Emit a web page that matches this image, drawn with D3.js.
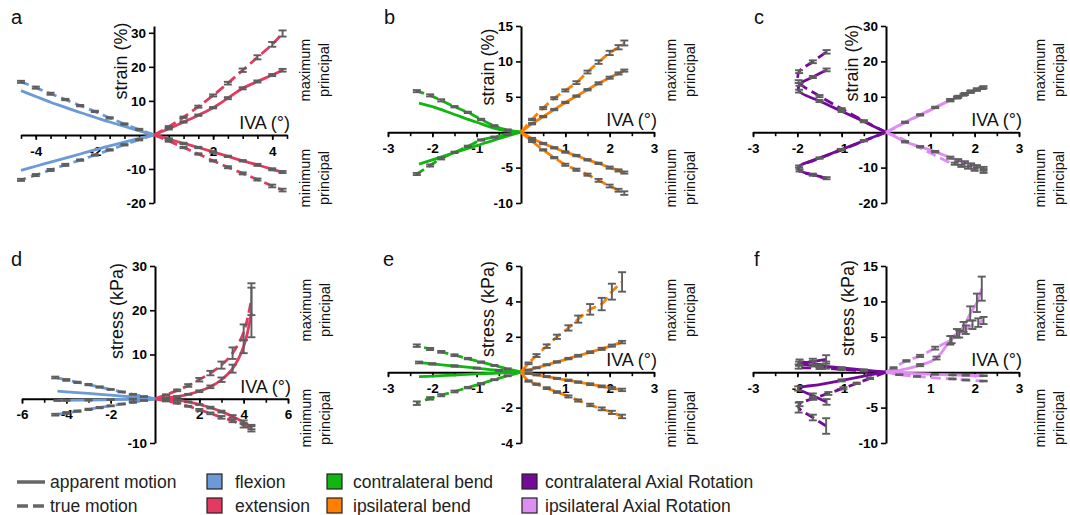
<!DOCTYPE html>
<html>
<head>
<meta charset="utf-8">
<script src="https://cdn.jsdelivr.net/npm/d3@7"></script>
<style>
  body { margin: 0; background: #fff; }
  svg { display: block; font-family: Arial, "Liberation Sans", Helvetica, sans-serif; }
</style>
</head>
<body>
<svg id="chart" width="1070" height="515"></svg>
<script>
// ---------- data: [IVA (deg), value, SEM] ; points without SEM carry no error bar ----------

// a: strain, flexion (negative IVA) / extension (positive IVA)
const aFlexMaxApp  = [[0,0],[-0.5,1.2],[-1,2.5],[-1.5,3.8],[-2,5.2],[-2.5,6.6],[-3,8.1],[-3.5,9.6],[-4,11.3],[-4.5,13.0]];
const aFlexMaxTrue = [[0,0],[-0.5,1.6,0.2],[-1,3.2,0.2],[-1.5,5.0,0.2],[-2,6.9,0.2],[-2.5,8.6,0.2],[-3,10.4,0.2],[-3.5,12.1,0.3],[-4,13.9,0.3],[-4.5,15.6,0.3]];
const aFlexMinApp  = [[0,0],[-0.5,-1.0],[-1,-2.1],[-1.5,-3.2],[-2,-4.4],[-2.5,-5.6],[-3,-6.8],[-3.5,-8.0],[-4,-9.2],[-4.5,-10.4]];
const aFlexMinTrue = [[0,0],[-0.5,-1.4,0.2],[-1,-2.9,0.2],[-1.5,-4.4,0.2],[-2,-5.9,0.2],[-2.5,-7.4,0.2],[-3,-8.8,0.3],[-3.5,-10.3,0.3],[-4,-11.8,0.3],[-4.5,-13.2,0.3]];
const aExtMaxApp   = [[0,0],[0.5,1.8,0.2],[1,3.8,0.2],[1.5,5.8,0.2],[2,8.0,0.2],[2.5,10.8,0.3],[3,13.7,0.3],[3.5,15.7,0.3],[4,17.6,0.3],[4.35,19.0,0.4]];
const aExtMaxTrue  = [[0,0],[0.5,2.4,0.2],[1,5.2,0.2],[1.5,8.3,0.3],[2,11.6,0.3],[2.5,15.2,0.4],[3,19.0,0.5],[3.5,22.8,0.6],[4,26.6,0.7],[4.35,29.8,0.9]];
const aExtMinApp   = [[0,0],[0.5,-1.2,0.2],[1,-2.5,0.2],[1.5,-3.7,0.2],[2,-5.0,0.2],[2.5,-6.3,0.2],[3,-7.6,0.2],[3.5,-8.8,0.3],[4,-10.1,0.3],[4.35,-10.9,0.3]];
const aExtMinTrue  = [[0,0],[0.5,-1.8,0.2],[1,-3.7,0.2],[1.5,-5.6,0.2],[2,-7.6,0.2],[2.5,-9.5,0.3],[3,-11.3,0.3],[3.5,-13.1,0.3],[4,-15.0,0.4],[4.35,-16.2,0.4]];

// b: strain, contralateral bend (negative) / ipsilateral bend (positive)
const bContraMaxApp  = [[0,0],[-0.5,0.4],[-1,1.4],[-1.5,2.5],[-2,3.6],[-2.3,4.1]];
const bContraMaxTrue = [[0,0],[-0.3,0.3,0.1],[-0.6,0.9,0.1],[-0.9,1.8,0.1],[-1.2,2.8,0.1],[-1.5,3.6,0.1],[-1.8,4.5,0.15],[-2.05,5.2,0.15],[-2.35,5.8,0.15]];
const bContraMinApp  = [[0,0],[-0.5,-0.9],[-1,-1.9],[-1.5,-2.9],[-2,-3.9],[-2.3,-4.5]];
const bContraMinTrue = [[0,0],[-0.3,-0.3,0.1],[-0.6,-0.7,0.1],[-0.9,-1.1,0.1],[-1.2,-2.0,0.1],[-1.5,-2.85,0.1],[-1.8,-3.7,0.15],[-2.05,-4.7,0.15],[-2.35,-5.9,0.15]];
const bIpsiMaxApp    = [[0,0],[0.25,1.2,0.1],[0.5,2.2,0.1],[0.75,3.2,0.1],[1,4.2,0.1],[1.25,5.1,0.1],[1.5,6.0,0.1],[1.75,6.9,0.15],[2,7.7,0.15],[2.2,8.3,0.15],[2.33,8.7,0.15]];
const bIpsiMaxTrue   = [[0,0],[0.25,1.8,0.1],[0.5,3.4,0.15],[0.75,4.8,0.15],[1,5.9,0.15],[1.25,7.0,0.2],[1.5,8.5,0.2],[1.75,9.9,0.25],[2,11.2,0.3],[2.2,12.0,0.3],[2.33,12.6,0.35]];
const bIpsiMinApp    = [[0,0],[0.25,-0.9,0.1],[0.5,-1.6,0.1],[0.75,-2.2,0.1],[1,-2.8,0.1],[1.25,-3.3,0.1],[1.5,-3.9,0.1],[1.75,-4.4,0.1],[2,-5.0,0.15],[2.2,-5.4,0.15],[2.33,-5.7,0.15]];
const bIpsiMinTrue   = [[0,0],[0.25,-1.3,0.1],[0.5,-2.5,0.1],[0.75,-3.6,0.1],[1,-4.6,0.15],[1.25,-5.3,0.15],[1.5,-6.0,0.15],[1.75,-6.8,0.2],[2,-7.6,0.2],[2.2,-8.2,0.2],[2.33,-8.6,0.25]];

// c: strain, contralateral axial rotation (negative) / ipsilateral axial rotation (positive)
const cContraMaxApp  = [[0,0],[-0.5,3.0,0.2],[-1,5.9,0.2],[-1.5,8.8,0.3],[-1.96,11.6,0.4],[-1.95,13.5,0.4],[-1.65,15.6,0.3],[-1.34,17.6,0.4]];
const cContraMaxTrue = [[0,0],[-0.5,3.2,0.2],[-1,6.6,0.2],[-1.5,10.2,0.3],[-1.97,14.3,0.4],[-1.96,17.1,0.4],[-1.65,19.9,0.4],[-1.34,22.7,0.5]];
const cContraMinApp  = [[0,0],[-0.5,-2.4,0.2],[-1,-4.9,0.2],[-1.5,-7.3,0.2],[-1.96,-9.7,0.3],[-1.95,-10.8,0.3],[-1.65,-12.0,0.3],[-1.34,-13.0,0.3]];
const cContraMinTrue = [[0,0],[-0.5,-2.5],[-1,-5.0],[-1.5,-7.4],[-1.97,-9.9],[-1.96,-10.9],[-1.65,-12.1],[-1.34,-13.1]];
const cIpsiMaxApp    = [[0,0],[0.2,1.3],[0.43,2.8,0.2],[0.77,4.9,0.2],[1.11,7.0,0.2],[1.45,9.1,0.3],[1.63,10.0,0.3],[1.78,10.8,0.3],[1.92,11.5,0.3],[2.05,12.1,0.3],[2.2,12.7,0.3]];
const cIpsiMaxTrue   = [[0,0],[0.2,1.2],[0.43,2.7],[0.77,4.8],[1.11,6.9],[1.45,9.0,0.3],[1.6,9.8,0.3],[1.75,10.6,0.3],[1.9,11.4,0.3],[2.05,12.0,0.3],[2.18,12.5,0.3]];
const cIpsiMinApp    = [[0,0],[0.2,-1.2],[0.43,-2.7,0.2],[0.77,-4.1,0.2],[1.11,-5.5,0.2],[1.45,-7.2,0.3],[1.63,-7.9,0.3],[1.78,-8.5,0.3],[1.92,-9.1,0.3],[2.05,-9.6,0.3],[2.2,-10.1,0.3]];
const cIpsiMinTrue   = [[0,0],[0.26,-1.3],[0.6,-3.4],[1.0,-5.9],[1.39,-8.3],[1.55,-8.9,0.3],[1.7,-9.5,0.3],[1.85,-10.0,0.3],[2.0,-10.6,0.3],[2.2,-11.2,0.3]];

// d: stress, flexion / extension
const dFlexMaxApp  = [[0,0],[-1,0.4],[-2,0.8],[-3,1.2],[-4,1.55],[-4.4,1.7]];
const dFlexMaxTrue = [[0,0],[-0.5,0.5,0.1],[-1,1.0,0.1],[-1.5,1.55,0.1],[-2,2.1,0.1],[-2.5,2.65,0.15],[-3,3.2,0.15],[-3.5,3.7,0.15],[-4,4.25,0.2],[-4.5,4.8,0.2]];
const dFlexMinApp  = [[0,0],[-1,-0.1,0.1],[-2,-0.2,0.1],[-3,-0.3,0.1],[-4,-0.35,0.1],[-4.4,-0.4,0.1]];
const dFlexMinTrue = [[0,0],[-0.5,-0.4,0.1],[-1,-0.8,0.1],[-1.5,-1.2,0.1],[-2,-1.6,0.1],[-2.5,-2.0,0.15],[-3,-2.4,0.15],[-3.5,-2.8,0.15],[-4,-3.2,0.2],[-4.5,-3.6,0.2]];
const dExtMaxApp   = [[0,0],[0.5,0.2,0.1],[1,0.5,0.1],[1.5,1.0,0.1],[2,1.7,0.2],[2.5,2.7,0.3],[3,4.3,0.5],[3.5,6.8,0.9],[4,11.8,1.5],[4.35,19.5,5.6]];
const dExtMaxTrue  = [[0,0],[0.5,0.9,0.1],[1,1.9,0.2],[1.5,3.0,0.3],[2,4.3,0.4],[2.5,5.8,0.5],[3,7.6,0.8],[3.5,10.3,1.3],[4,15.0,1.8],[4.35,22.5,3.6]];
const dExtMinApp   = [[0,0],[0.5,-0.1,0.1],[1,-0.3,0.1],[1.5,-0.7,0.1],[2,-1.3,0.1],[2.5,-2.0,0.2],[3,-2.9,0.2],[3.5,-4.0,0.3],[4,-5.3,0.4],[4.35,-6.4,0.5]];
const dExtMinTrue  = [[0,0],[0.5,-0.5,0.1],[1,-1.0,0.1],[1.5,-1.7,0.1],[2,-2.5,0.2],[2.5,-3.3,0.2],[3,-4.2,0.3],[3.5,-5.0,0.3],[4,-6.0,0.5],[4.35,-6.8,0.6]];

// e: stress, contralateral / ipsilateral bend
const eContraMaxApp  = [[0,0],[-0.5,0.1,0.03],[-1,0.23,0.03],[-1.5,0.35,0.04],[-2,0.47,0.04],[-2.3,0.55,0.05]];
const eContraMaxTrue = [[0,0],[-0.3,0.19,0.03],[-0.6,0.38,0.03],[-0.9,0.57,0.04],[-1.2,0.77,0.04],[-1.5,0.96,0.05],[-1.8,1.15,0.05],[-2.05,1.31,0.06],[-2.35,1.5,0.07]];
const eContraMinApp  = [[0,0],[-0.5,-0.05],[-1,-0.1],[-1.5,-0.16],[-2,-0.22],[-2.3,-0.25]];
const eContraMinTrue = [[0,0],[-0.3,-0.2,0.03],[-0.6,-0.42,0.03],[-0.9,-0.65,0.04],[-1.2,-0.87,0.04],[-1.5,-1.09,0.05],[-1.8,-1.3,0.06],[-2.05,-1.48,0.07],[-2.35,-1.75,0.1]];
const eIpsiMaxApp    = [[0,0],[0.17,0.12,0.03],[0.35,0.25,0.03],[0.58,0.42,0.03],[0.81,0.58,0.04],[1.07,0.77,0.04],[1.29,0.93,0.05],[1.56,1.13,0.05],[1.82,1.32,0.06],[2.05,1.5,0.06],[2.28,1.7,0.07]];
const eIpsiMaxTrue   = [[0,0],[0.17,0.5,0.05],[0.35,0.94,0.08],[0.58,1.47,0.1],[0.81,2.0,0.12],[1.07,2.5,0.15],[1.29,3.0,0.2],[1.56,3.55,0.3],[1.82,3.85,0.35],[2.05,4.55,0.45],[2.28,5.1,0.55]];
const eIpsiMinApp    = [[0,0],[0.17,-0.07,0.03],[0.35,-0.15,0.03],[0.58,-0.25,0.03],[0.81,-0.35,0.03],[1.07,-0.46,0.04],[1.29,-0.56,0.04],[1.56,-0.68,0.05],[1.82,-0.8,0.05],[2.05,-0.9,0.06],[2.28,-1.0,0.07]];
const eIpsiMinTrue   = [[0,0],[0.17,-0.5,0.04],[0.35,-0.68,0.04],[0.58,-0.9,0.05],[0.81,-1.12,0.05],[1.07,-1.37,0.06],[1.29,-1.6,0.06],[1.56,-1.85,0.07],[1.82,-2.07,0.08],[2.05,-2.27,0.09],[2.28,-2.5,0.1]];

// f: stress, contralateral / ipsilateral axial rotation
const fContraMaxApp  = [[0,0],[-0.5,0.3,0.1],[-1,0.6,0.1],[-1.5,0.9,0.15],[-1.96,1.2,0.3],[-1.65,1.5,0.4],[-1.35,1.8,0.6]];
const fContraMaxTrue = [[0,0],[-0.5,0.2,0.1],[-1,0.4,0.1],[-1.5,0.6,0.15],[-1.97,0.8,0.3],[-1.95,1.4,0.4],[-1.65,1.2,0.4],[-1.35,1.0,0.5]];
const fContraMinApp  = [[0,0],[-0.5,-0.55],[-1,-1.15,0.15],[-1.5,-1.75],[-1.98,-2.3,0.3],[-1.65,-3.3,0.3],[-1.34,-4.2,0.4]];
const fContraMinTrue = [[0,0],[-0.36,-0.87,0.1],[-0.66,-1.57,0.1],[-0.96,-2.27,0.15],[-1.3,-3.0,0.2],[-1.64,-3.7,0.2],[-1.95,-4.5,0.3],[-1.97,-5.0,0.7],[-1.65,-6.4,0.4],[-1.35,-7.6,1.1]];
const fIpsiMaxApp    = [[0,0],[0.32,0.3],[0.77,1.0,0.15],[1.14,2.0,0.2],[1.45,4.5,0.6],[1.6,5.5,0.6],[1.75,6.4,0.7],[1.9,8.3,1.0],[2.05,9.8,1.3],[2.16,11.8,1.7]];
const fIpsiMaxTrue   = [[0,0],[0.17,0.6,0.1],[0.46,1.6,0.1],[0.77,2.3,0.15],[1.11,3.4,0.2],[1.48,4.6,0.5],[1.65,5.4,0.5],[1.8,6.0,0.6],[1.95,6.7,0.6],[2.08,7.0,0.6],[2.2,7.3,0.5]];
const fIpsiMinApp    = [[0,0],[0.3,-0.1],[0.7,-0.2],[1.1,-0.3,0.05],[1.5,-0.38,0.05],[1.8,-0.44,0.05],[2.2,-0.5,0.05]];
const fIpsiMinTrue   = [[0,0],[0.3,-0.35,0.05],[0.7,-0.6,0.05],[1.1,-0.8],[1.5,-0.95,0.05],[1.8,-1.1,0.05],[2.2,-1.25,0.05]];

// ---------- axis ticks ----------
const xTicksA = [-4, -2, 2, 4];
const xTicksD = [-6, -4, -2, 2, 4, 6];
const xTicks3 = [-3, -2, -1, 1, 2, 3];
const yTicksA = [-20, -10, 10, 20, 30];
const yTicksB = [-10, -5, 5, 10, 15];
const yTicksC = [-20, -10, 10, 20, 30];
const yTicksD = [-10, 10, 20, 30];
const yTicksE = [-4, -2, 2, 4, 6];
const yTicksF = [-10, -5, 5, 10, 15];

// ---------- legend text ----------
const motionLabels = ["apparent motion", "true motion"];
const directionLabels = [
  ["flexion", "extension"],
  ["contralateral bend", "ipsilateral bend"],
  ["contralateral Axial Rotation", "ipsilateral Axial Rotation"]
];

// ---------- styling ----------
const colors = {
  flexion: "#6b9ad6",
  extension: "#e33b60",
  contraBend: "#13b513",
  ipsiBend: "#ff8000",
  contraAR: "#740b98",
  ipsiAR: "#de8ef2"
};
const barColor = "#5e5e5e";
const legendColors = [["flexion", "extension"], ["contraBend", "ipsiBend"], ["contraAR", "ipsiAR"]];

const W = 266, H = 177;
const s = (pts, c, dash) => ({ pts, c, dash });

const panels = [
  { letter: "a", lx: 11, title: "strain (%)", left: 21, top: 26, xd: [-4.5, 4.5], yd: [-20, 32], xt: xTicksA, xm: 0.5, yt: yTicksA,
    tdx: -33, tdy: 35, rx: [18, 37],
    series: [s(aFlexMaxApp, "flexion", false), s(aFlexMaxTrue, "flexion", true), s(aFlexMinApp, "flexion", false), s(aFlexMinTrue, "flexion", true),
             s(aExtMaxApp, "extension", false), s(aExtMaxTrue, "extension", true), s(aExtMinApp, "extension", false), s(aExtMinTrue, "extension", true)] },
  { letter: "b", lx: 384, title: "strain (%)", left: 388, top: 26, xd: [-3, 3], yd: [-10, 15], xt: xTicks3, xm: 0.5, yt: yTicksB,
    tdx: -33.5, tdy: 41, rx: [17, 36],
    series: [s(bContraMaxApp, "contraBend", false), s(bContraMaxTrue, "contraBend", true), s(bContraMinApp, "contraBend", false), s(bContraMinTrue, "contraBend", true),
             s(bIpsiMaxApp, "ipsiBend", false), s(bIpsiMaxTrue, "ipsiBend", true), s(bIpsiMinApp, "ipsiBend", false), s(bIpsiMinTrue, "ipsiBend", true)] },
  { letter: "c", lx: 754, title: "strain (%)", left: 753, top: 26, xd: [-3, 3], yd: [-20, 30], xt: xTicks3, xm: 0.5, yt: yTicksC,
    tdx: -34, tdy: 37, rx: [21, 40],
    series: [s(cContraMinTrue, "contraAR", true), s(cContraMinApp, "contraAR", false), s(cContraMaxTrue, "contraAR", true), s(cContraMaxApp, "contraAR", false),
             s(cIpsiMaxApp, "ipsiAR", false), s(cIpsiMaxTrue, "ipsiAR", true), s(cIpsiMinApp, "ipsiAR", false), s(cIpsiMinTrue, "ipsiAR", true)] },
  { letter: "d", lx: 11, title: "stress (kPa)", left: 22, top: 266, xd: [-6, 6], yd: [-10, 30], xt: xTicksD, xm: 1, yt: yTicksD,
    tdx: -38.5, tdy: 45, rx: [18, 37],
    series: [s(dFlexMaxApp, "flexion", false), s(dFlexMaxTrue, "flexion", true), s(dFlexMinApp, "flexion", false), s(dFlexMinTrue, "flexion", true),
             s(dExtMaxApp, "extension", false), s(dExtMaxTrue, "extension", true), s(dExtMinApp, "extension", false), s(dExtMinTrue, "extension", true)] },
  { letter: "e", lx: 383, title: "stress (kPa)", left: 388, top: 266, xd: [-3, 3], yd: [-4, 6], xt: xTicks3, xm: 0.5, yt: yTicksE,
    tdx: -33.5, tdy: 43, rx: [17, 36],
    series: [s(eContraMaxApp, "contraBend", false), s(eContraMaxTrue, "contraBend", true), s(eContraMinApp, "contraBend", false), s(eContraMinTrue, "contraBend", true),
             s(eIpsiMaxApp, "ipsiBend", false), s(eIpsiMaxTrue, "ipsiBend", true), s(eIpsiMinApp, "ipsiBend", false), s(eIpsiMinTrue, "ipsiBend", true)] },
  { letter: "f", lx: 754, title: "stress (kPa)", left: 753, top: 266, xd: [-3, 3], yd: [-10, 15], xt: xTicks3, xm: 0.5, yt: yTicksF,
    tdx: -38, tdy: 42, rx: [21, 40],
    series: [s(fContraMinTrue, "contraAR", true), s(fContraMinApp, "contraAR", false), s(fContraMaxTrue, "contraAR", true), s(fContraMaxApp, "contraAR", false),
             s(fIpsiMaxApp, "ipsiAR", false), s(fIpsiMaxTrue, "ipsiAR", true), s(fIpsiMinApp, "ipsiAR", false), s(fIpsiMinTrue, "ipsiAR", true)] }
];

const svg = d3.select("#chart");

function styleAxis(g) {
  g.select(".domain").attr("stroke", "#000").attr("stroke-width", 2);
  g.selectAll(".tick line").attr("stroke", "#000").attr("stroke-width", 1.6);
  g.selectAll(".tick text").attr("fill", "#000").attr("font-size", "13.5px").attr("font-weight", "bold")
    .attr("font-family", "Arial, 'Liberation Sans', sans-serif");
}

panels.forEach(p => {
  const x = d3.scaleLinear().domain(p.xd).range([p.left, p.left + W]);
  const y = d3.scaleLinear().domain(p.yd).range([p.top + H, p.top]);
  const g = svg.append("g");
  const x0 = x(0), y0 = y(0);

  // minor x ticks
  const minor = d3.range(p.xd[0], p.xd[1] + 1e-9, p.xm).filter(v => Math.abs(v) > 1e-9);
  g.append("g").attr("transform", `translate(0,${y0})`)
    .call(d3.axisBottom(x).tickValues(minor).tickSize(4).tickFormat("").tickSizeOuter(0))
    .call(a => { a.select(".domain").remove(); a.selectAll("line").attr("stroke", "#000").attr("stroke-width", 1.6); });

  // labelled x axis
  g.append("g").attr("transform", `translate(0,${y0})`)
    .call(d3.axisBottom(x).tickValues(p.xt).tickSize(5).tickPadding(6).tickFormat(d => String(d)).tickSizeOuter(0))
    .call(styleAxis);

  // y axis
  g.append("g").attr("transform", `translate(${x0},0)`)
    .call(d3.axisLeft(y).tickValues(p.yt).tickSize(5).tickPadding(3).tickFormat(d => String(d)).tickSizeOuter(0))
    .call(styleAxis);

  // panel letter
  g.append("text").attr("x", p.lx).attr("y", p.top < 100 ? 24 : 266)
    .attr("font-size", "20px").attr("fill", "#111").text(p.letter);

  // y title
  g.append("text")
    .attr("transform", `translate(${x0 + p.tdx},${p.top + p.tdy}) rotate(-90)`)
    .attr("text-anchor", "middle").attr("dy", "0.35em")
    .attr("font-size", "18px").attr("fill", "#111").text(p.title);

  // x title
  g.append("text").attr("x", p.left + W + 3).attr("y", y0 - 6)
    .attr("text-anchor", "end").attr("font-size", "18px").attr("fill", "#111").text("IVA (°)");

  // principal direction labels
  [["maximum", "principal", p.top + 44], ["minimum", "principal", p.top + 152]].forEach(([l1, l2, cy]) => {
    [l1, l2].forEach((t, i) => {
      g.append("text")
        .attr("transform", `translate(${p.left + W + p.rx[i]},${cy}) rotate(-90)`)
        .attr("text-anchor", "middle").attr("dy", "0.35em")
        .attr("font-size", "14.5px").attr("fill", "#111").text(t);
    });
  });

  const line = d3.line().x(d => x(d[0])).y(d => y(d[1])).curve(d3.curveCatmullRom.alpha(0.5));

  // curves
  p.series.forEach(se => {
    g.append("path").attr("d", line(se.pts))
      .attr("fill", "none").attr("stroke", colors[se.c]).attr("stroke-width", 2.8)
      .attr("stroke-linejoin", "round")
      .attr("stroke-dasharray", se.dash ? "10,5" : null);
  });

  // error bars (mean ± SEM)
  p.series.forEach(se => {
    se.pts.filter(d => d.length > 2).forEach(d => {
      const cx = x(d[0]), yt = y(d[1] + d[2]), yb = y(d[1] - d[2]);
      const eb = g.append("g").attr("stroke", barColor).attr("stroke-width", 1.9);
      eb.append("line").attr("x1", cx).attr("x2", cx).attr("y1", yt).attr("y2", yb);
      eb.append("line").attr("x1", cx - 4).attr("x2", cx + 4).attr("y1", yt).attr("y2", yt);
      eb.append("line").attr("x1", cx - 4).attr("x2", cx + 4).attr("y1", yb).attr("y2", yb);
    });
  });
});

// ---------- legend ----------
const lg = svg.append("g").attr("font-size", "17.5px").attr("fill", "#222");
const rowY = [482, 506];
motionLabels.forEach((t, i) => {
  lg.append("line").attr("x1", 17).attr("x2", 45).attr("y1", rowY[i]).attr("y2", rowY[i])
    .attr("stroke", "#666").attr("stroke-width", 3.5).attr("stroke-dasharray", i ? "11,5" : null);
  lg.append("text").attr("x", 50).attr("y", rowY[i]).attr("dy", "0.35em").text(t);
});
const boxX = [207, 327, 522];
const textX = [235, 353, 545];
directionLabels.forEach((pair, j) => {
  pair.forEach((t, i) => {
    lg.append("rect").attr("x", boxX[j]).attr("y", rowY[i] - 8).attr("width", 15).attr("height", 15)
      .attr("fill", colors[legendColors[j][i]]).attr("stroke", "#222").attr("stroke-width", 1.2);
    lg.append("text").attr("x", textX[j]).attr("y", rowY[i]).attr("dy", "0.35em").text(t);
  });
});
</script>
</body>
</html>
